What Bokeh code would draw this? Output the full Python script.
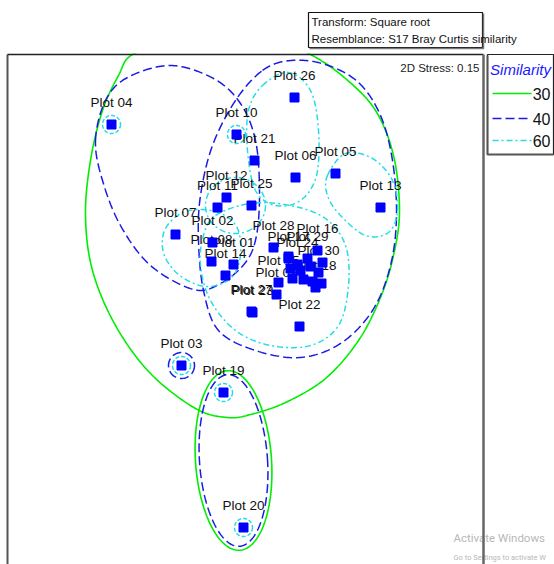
import numpy as np
from bokeh.plotting import figure
from bokeh.models import Range1d
from bokeh.core.properties import value
from bokeh.embed import file_html
from bokeh.resources import INLINE

# ---------------- data (MDS coordinates, pixel units) -------------
plot_names = ["Plot 01", "Plot 02", "Plot 03", "Plot 04", "Plot 05", "Plot 06", "Plot 07",
              "Plot 08", "Plot 10", "Plot 11", "Plot 12", "Plot 13", "Plot 14",
              "Plot 19", "Plot 20", "Plot 21", "Plot 22", "Plot 23", "Plot 25", "Plot 26",
              "Plot 27", "Plot 28", "Plot 16", "Plot 17", "Plot 24", "Plot 29", "Plot 30",
              "Plot 18", "Plot 15", "Plot 09"]
plot_x = [233, 212, 181, 111, 335, 295, 175, 211, 236, 217, 226, 380, 225,
          223, 243, 254, 299, 252, 251, 294, 251, 273, 317, 288, 297, 307, 318,
          315, 278, 276]
plot_y = [264, 242, 365, 124, 173, 177, 234, 261, 134, 207, 197, 207, 275,
          392, 527, 160, 326, 312, 205, 97, 311, 247, 250, 258, 264, 258, 272,
          287, 282, 294]
extra_x = [290, 300, 310, 322, 292, 303, 312, 321, 288]
extra_y = [268, 270, 266, 262, 278, 279, 281, 283, 256]

# contour outlines (control points of smooth closed curves)
green_big_x = [132, 175, 225, 275, 310, 345, 375, 393, 399, 393, 380, 358, 325, 285, 250, 227, 195, 150, 115, 92, 85, 90, 102, 118]
green_big_y = [54, 42, 38, 42, 54, 78, 110, 155, 210, 255, 297, 340, 378, 402, 414, 417, 408, 373, 325, 270, 215, 160, 110, 75]
blue_a_x = [95, 105, 127, 170, 213, 240, 255, 259, 256, 245, 220, 193, 150, 120, 102]
blue_a_y = [140, 100, 77, 65, 78, 103, 140, 190, 235, 262, 283, 289, 265, 225, 180]
blue_b_x = [262, 290, 325, 358, 380, 392, 396, 390, 372, 340, 300, 255, 218, 203, 198, 200, 212, 235]
blue_b_y = [70, 60, 64, 82, 115, 160, 215, 265, 310, 343, 357, 350, 330, 290, 240, 195, 145, 100]
cyan_c3_x = [262, 288, 310, 318, 316, 300, 275, 255, 247, 248]
cyan_c3_y = [85, 72, 90, 130, 175, 200, 205, 190, 150, 110]
cyan_c5_x = [165, 185, 215, 236, 240, 230, 205, 178, 163]
cyan_c5_y = [228, 211, 211, 226, 255, 278, 286, 274, 252]
cyan_c6_x = [215, 250, 290, 325, 345, 348, 338, 310, 270, 235, 210, 200, 203]
cyan_c6_y = [215, 203, 205, 218, 245, 285, 325, 345, 345, 330, 300, 265, 235]
cyan_c7_x = [327, 345, 372, 392, 397, 388, 365, 340, 327]
cyan_c7_y = [175, 153, 158, 180, 210, 232, 235, 215, 195]
# ellipses: cx, cy, rx, ry, angle(deg)
cyan_c4 = (235, 205, 30, 28, 0)
green_1920 = (233, 460, 38, 90, -4)
blue_1920 = (233, 460, 34, 86, -4)
cyan_ring_names = ["Plot 04", "Plot 10", "Plot 03", "Plot 19", "Plot 20"]
blue_ring_names = ["Plot 03"]

legend_levels = ["30", "40", "60"]
stress_text = "2D Stress: 0.15"
transform_lines = ["Transform: Square root", "Resemblance: S17 Bray Curtis similarity"]

GREEN = "#00ee00"
BLUE = "#1a1ae6"
CYAN = "#22dde8"
SQ = "#0000ff"
FONT = "Liberation Sans"


def smooth_closed(xs, ys, n=24):
    P = np.column_stack([xs, ys]).astype(float)
    N = len(P)
    t = np.linspace(0, 1, n, endpoint=False)[:, None]
    out = []
    for i in range(N):
        p0, p1, p2, p3 = P[(i - 1) % N], P[i], P[(i + 1) % N], P[(i + 2) % N]
        out.append(0.5 * ((2 * p1) + (-p0 + p2) * t + (2 * p0 - 5 * p1 + 4 * p2 - p3) * t ** 2
                          + (-p0 + 3 * p1 - 3 * p2 + p3) * t ** 3))
    out = np.vstack(out + [P[:1]])
    return out[:, 0], out[:, 1]


def ellipse_pts(cx, cy, rx, ry, ang, n=200):
    t = np.linspace(0, 2 * np.pi, n)
    a = np.radians(ang)
    x = cx + rx * np.cos(t) * np.cos(a) - ry * np.sin(t) * np.sin(a)
    y = cy + rx * np.cos(t) * np.sin(a) + ry * np.sin(t) * np.cos(a)
    return x, y


p = figure(width=554, height=564, x_range=Range1d(0, 554), y_range=Range1d(564, 0),
           output_backend="svg", toolbar_location=None, x_axis_type=None, y_axis_type=None,
           min_border=0, outline_line_color=None)
p.grid.visible = False
p.background_fill_color = "white"
p.border_fill_color = "white"

green_style = dict(line_color=GREEN, line_width=1.6)
blue_style = dict(line_color=BLUE, line_width=1.5, line_dash="9 4")
cyan_style = dict(line_color=CYAN, line_width=1.5, line_dash="6 3 2 3")

# 30 %
gx, gy = smooth_closed(green_big_x, green_big_y)
p.line(gx, gy, **green_style)
ex, ey = ellipse_pts(*green_1920)
p.line(ex, ey, **green_style)
# 40 %
for cx_, cy_ in [(blue_a_x, blue_a_y), (blue_b_x, blue_b_y)]:
    bx, by = smooth_closed(cx_, cy_)
    p.line(bx, by, **blue_style)
ex, ey = ellipse_pts(*blue_1920)
p.line(ex, ey, **blue_style)
for nm in blue_ring_names:
    i = plot_names.index(nm)
    ex, ey = ellipse_pts(plot_x[i], plot_y[i], 13, 13, 0, 80)
    p.line(ex, ey, **blue_style)
# 60 %
for cx_, cy_ in [(cyan_c3_x, cyan_c3_y), (cyan_c5_x, cyan_c5_y), (cyan_c6_x, cyan_c6_y), (cyan_c7_x, cyan_c7_y)]:
    cx2, cy2 = smooth_closed(cx_, cy_)
    p.line(cx2, cy2, **cyan_style)
ex, ey = ellipse_pts(*cyan_c4)
p.line(ex, ey, **cyan_style)
for nm in cyan_ring_names:
    i = plot_names.index(nm)
    ex, ey = ellipse_pts(plot_x[i], plot_y[i], 9, 9, 0, 60)
    p.line(ex, ey, line_color=CYAN, line_width=1.5, line_dash="4 2")

# clip region above the frame
p.quad(left=8, right=482, top=0, bottom=53, fill_color="white", line_color=None)

# labels then squares
lab_y = [v - 22 for v in plot_y]
p.text(plot_x, lab_y, text=plot_names, text_align="center", text_baseline="middle",
       text_font=value(FONT), text_font_size="13.5px", text_color="#111111")
p.scatter(extra_x, extra_y, marker="square", size=9, fill_color=SQ, line_color=SQ)
p.scatter(plot_x, plot_y, marker="square", size=9, fill_color=SQ, line_color=SQ)

# watermark
p.text([453], [537], text=["Activate Windows"], text_font=value("Roboto"), text_font_size="11.5px",
       text_color="#b8b8b8", text_baseline="middle")
p.text([453], [557], text=["Go to Settings to activate W"], text_font=value("Roboto"),
       text_font_size="7.5px", text_color="#b8b8b8", text_baseline="middle")

# frame of plot area
p.line([7, 7], [54, 564], line_color="#555555", line_width=2)
p.line([7, 483], [54, 54], line_color="#222222", line_width=1.5)
p.line([483, 483], [54, 564], line_color="#666666", line_width=2.5)
p.text([479], [67], text=[stress_text], text_align="right", text_baseline="middle",
       text_font=value(FONT), text_font_size="11.5px", text_color="#222222")

# transform box
p.quad(left=308, right=482, top=12, bottom=47, fill_color="white", line_color="#111111", line_width=1.2)
p.line([309, 483, 483], [48, 48, 13], line_color="#777777", line_width=1.5)
p.text([311, 311], [21, 38], text=transform_lines, text_baseline="middle",
       text_font=value(FONT), text_font_size="11.5px", text_color="#111111")

# legend box
p.quad(left=487, right=553, top=54, bottom=154, fill_color="white", line_color="#222222", line_width=1.2)
p.line([487, 487, 553], [55, 154, 154], line_color="#555555", line_width=2)
p.text([520], [69], text=["Similarity"], text_align="center", text_baseline="middle",
       text_font=value(FONT), text_font_size="15px", text_font_style="italic", text_color="#1a1aff")
leg_y = [93, 118, 140]
p.line([492, 531], [leg_y[0], leg_y[0]], **green_style)
p.line([492, 531], [leg_y[1], leg_y[1]], **blue_style)
p.line([492, 531], [leg_y[2], leg_y[2]], **cyan_style)
p.text([550] * 3, leg_y, text=legend_levels, text_align="right", text_baseline="middle",
       text_font=value(FONT), text_font_size="16px", text_color="#111111")

open("out.html", "w").write(file_html(p, INLINE))
